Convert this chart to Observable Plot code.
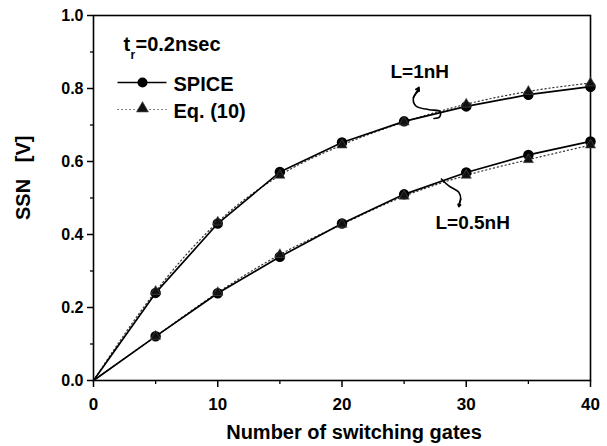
<!DOCTYPE html>
<html>
<head>
<meta charset="utf-8">
<script src="https://cdn.jsdelivr.net/npm/d3@7"></script>
<script src="https://cdn.jsdelivr.net/npm/@observablehq/plot@0.6"></script>
<style>
  html, body { margin: 0; padding: 0; background: #fff; }
  #chart svg { display: block; }
</style>
</head>
<body>
<div id="chart"></div>
<script>
// ---- data ----
const gates = [0, 5, 10, 15, 20, 25, 30, 35, 40];
const spice1nH = [0, 0.240, 0.430, 0.571, 0.652, 0.710, 0.751, 0.783, 0.805];
const eq1nH    = [0, 0.244, 0.434, 0.562, 0.645, 0.708, 0.757, 0.792, 0.815];
const spice05nH = [0, 0.121, 0.239, 0.339, 0.430, 0.510, 0.570, 0.618, 0.655];
const eq05nH    = [0, 0.121, 0.241, 0.345, 0.428, 0.505, 0.562, 0.605, 0.645];
const xTicks = [0, 10, 20, 30, 40];
const xMinor = [5, 15, 25, 35];
const yTicks = [0, 0.2, 0.4, 0.6, 0.8, 1.0];
const yMinor = [0.1, 0.3, 0.5, 0.7, 0.9];
const xTitle = "Number of switching gates";
const yTitle = "SSN   [V]";
const legendLabels = ["SPICE", "Eq. (10)"];
const curveLabels = ["L=1nH", "L=0.5nH"];
// annotation squiggles (data units)
const arrow1nH = [[26.2, 0.795], [25.75, 0.775], [25.95, 0.752], [27.0, 0.742], [27.9, 0.737], [27.85, 0.722], [27.4, 0.718]];
const arrow05nH = [[28.0, 0.552], [28.6, 0.533], [29.4, 0.516], [29.55, 0.497], [29.4, 0.482]];

// ---- layout ----
const W = 607, H = 446;
const mL = 93, mR = 17, mT = 15, mB = 66;
const xDomain = [0, 40], yDomain = [0, 1];
const px2x = px => xDomain[0] + (px - mL) / (W - mL - mR) * (xDomain[1] - xDomain[0]);
const py2y = py => yDomain[0] + (H - mB - py) / (H - mT - mB) * (yDomain[1] - yDomain[0]);

const rows = (vals, series) => gates.map((g, i) => ({g, v: vals[i], series}));
const s1 = rows(spice1nH, "s1"), e1 = rows(eq1nH, "e1");
const s05 = rows(spice05nH, "s05"), e05 = rows(eq05nH, "e05");

const font = "Liberation Sans, Arial, Helvetica, sans-serif";
const line = pts => pts.map(([x, y]) => ({x, y}));

const chart = Plot.plot({
  width: W, height: H,
  marginLeft: mL, marginRight: mR, marginTop: mT, marginBottom: mB,
  style: {fontFamily: font, fontWeight: "bold", color: "#000", background: "#fff"},
  x: {domain: xDomain},
  y: {domain: yDomain},
  marks: [
    // axes
    Plot.axisX({ticks: xTicks, tickSize: 7, tickPadding: 10, fontSize: 17, tickFormat: d3.format("d"), label: null, strokeWidth: 1.5}),
    Plot.axisX({ticks: xMinor, tickSize: 4, text: null, label: null, strokeWidth: 1.3}),
    Plot.axisY({ticks: yTicks, tickSize: 6, tickPadding: 4, fontSize: 16, tickFormat: d3.format(".1f"), label: null, strokeWidth: 1.5}),
    Plot.axisY({ticks: yMinor, tickSize: 3, text: null, label: null, strokeWidth: 1.3}),
    Plot.frame({stroke: "#000", strokeWidth: 1.6}),
    Plot.text([xTitle], {frameAnchor: "bottom", lineAnchor: "bottom", dx: 12, dy: 58, fontSize: 20, fontWeight: "bold"}),
    Plot.text([yTitle], {frameAnchor: "left", rotate: -90, dx: -70, dy: 22, fontSize: 20, fontWeight: "bold"}),

    // Eq. (10) dotted
    ...[e1, e05].map(d => Plot.line(d, {x: "g", y: "v", stroke: "#333", strokeWidth: 1.2, strokeDasharray: "1.2,2.8", curve: "monotone-x"})),
    // SPICE solid
    ...[s1, s05].map(d => Plot.line(d, {x: "g", y: "v", stroke: "#000", strokeWidth: 1.7, curve: "linear"})),
    // markers
    ...[s1, s05].map(d => Plot.dot(d.filter(r => r.g > 0), {x: "g", y: "v", r: 4.5, fill: "#000", stroke: "#000"})),
    ...[e1, e05].map(d => Plot.dot(d.filter(r => r.g > 0), {x: "g", y: "v", r: 3.8, symbol: "triangle", fill: "#111", stroke: "#555", strokeWidth: 0.6})),

    // condition text t_r = 0.2nsec
    Plot.text(["t"], {x: px2x(123), y: py2y(50), textAnchor: "start", lineAnchor: "bottom", fontSize: 20, fontWeight: "bold"}),
    Plot.text(["r"], {x: px2x(130), y: py2y(58), textAnchor: "start", lineAnchor: "bottom", fontSize: 12, fontWeight: "bold"}),
    Plot.text(["=0.2nsec"], {x: px2x(135), y: py2y(50), textAnchor: "start", lineAnchor: "bottom", fontSize: 20, fontWeight: "bold"}),

    // legend
    Plot.link([0], {x1: px2x(117), x2: px2x(166), y1: py2y(82), y2: py2y(82), stroke: "#000", strokeWidth: 1.6}),
    Plot.dot([0], {x: px2x(142), y: py2y(82), r: 5, fill: "#000"}),
    Plot.text([legendLabels[0]], {x: px2x(173), y: py2y(90), textAnchor: "start", lineAnchor: "bottom", fontSize: 20, fontWeight: "bold"}),
    Plot.link([0], {x1: px2x(117), x2: px2x(166), y1: py2y(109), y2: py2y(109), stroke: "#333", strokeWidth: 1.1, strokeDasharray: "1.2,2.8"}),
    Plot.dot([0], {x: px2x(142), y: py2y(108), r: 4.5, symbol: "triangle", fill: "#111", stroke: "#555", strokeWidth: 0.6}),
    Plot.text([legendLabels[1]], {x: px2x(173), y: py2y(117), textAnchor: "start", lineAnchor: "bottom", fontSize: 20, fontWeight: "bold"}),

    // curve labels
    Plot.text([curveLabels[0]], {x: px2x(390), y: py2y(77), textAnchor: "start", lineAnchor: "bottom", fontSize: 19, fontWeight: "bold"}),
    Plot.text([curveLabels[1]], {x: px2x(435), y: py2y(228), textAnchor: "start", lineAnchor: "bottom", fontSize: 19, fontWeight: "bold"}),

    // annotation arrows
    Plot.line(line(arrow1nH), {x: "x", y: "y", curve: "catmull-rom", stroke: "#000", strokeWidth: 1.6}),
    Plot.arrow([0], {x1: arrow1nH[1][0], y1: arrow1nH[1][1], x2: arrow1nH[0][0], y2: arrow1nH[0][1] + 0.008, stroke: "#000", strokeWidth: 1.6, headLength: 6}),
    Plot.line(line(arrow05nH), {x: "x", y: "y", curve: "catmull-rom", stroke: "#000", strokeWidth: 1.6}),
    Plot.arrow([0], {x1: arrow05nH[3][0], y1: arrow05nH[3][1], x2: arrow05nH[4][0], y2: arrow05nH[4][1] - 0.006, stroke: "#000", strokeWidth: 1.6, headLength: 6})
  ]
});
document.getElementById("chart").appendChild(chart);
</script>
</body>
</html>
